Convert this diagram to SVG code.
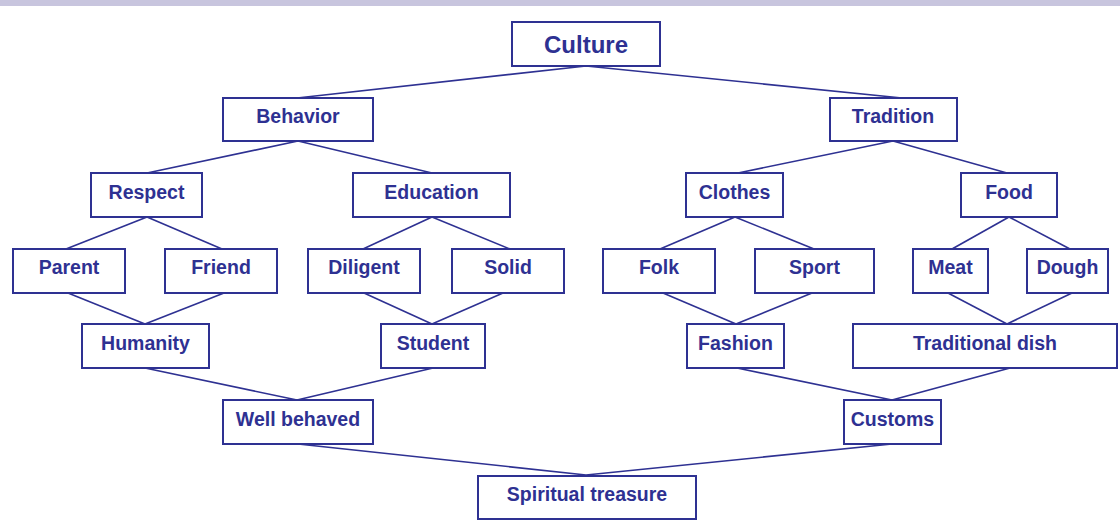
<svg xmlns="http://www.w3.org/2000/svg" width="1120" height="520" viewBox="0 0 1120 520">
<style>
.box{fill:#fff;stroke:#2e3192;stroke-width:2}
.lbl{font-family:"Liberation Sans",Arial,sans-serif;font-weight:bold;font-size:19.5px;fill:#2e3192;text-anchor:middle}
.big{font-size:24px}
#connectors line{stroke:#2e3192;stroke-width:1.6}
</style>
<rect x="0" y="0" width="1120" height="6" fill="#c8c5de"/>
<g id="connectors">
<line x1="586" y1="66" x2="297" y2="98"/>
<line x1="586" y1="66" x2="902" y2="98"/>
<line x1="298" y1="141" x2="147" y2="173"/>
<line x1="298" y1="141" x2="432" y2="173"/>
<line x1="893" y1="141" x2="738" y2="173"/>
<line x1="893" y1="141" x2="1007" y2="173"/>
<line x1="147" y1="217" x2="66" y2="249"/>
<line x1="147" y1="217" x2="222" y2="249"/>
<line x1="432" y1="217" x2="363" y2="249"/>
<line x1="432" y1="217" x2="510" y2="249"/>
<line x1="735" y1="217" x2="660" y2="249"/>
<line x1="735" y1="217" x2="814" y2="249"/>
<line x1="1009" y1="217" x2="952" y2="249"/>
<line x1="1009" y1="217" x2="1070" y2="249"/>
<line x1="68" y1="293" x2="145" y2="324"/>
<line x1="224" y1="293" x2="145" y2="324"/>
<line x1="364" y1="293" x2="432" y2="324"/>
<line x1="503" y1="293" x2="432" y2="324"/>
<line x1="663" y1="293" x2="736" y2="324"/>
<line x1="812" y1="293" x2="736" y2="324"/>
<line x1="948" y1="293" x2="1007" y2="324"/>
<line x1="1072" y1="293" x2="1007" y2="324"/>
<line x1="145" y1="368" x2="297" y2="400"/>
<line x1="433" y1="368" x2="297" y2="400"/>
<line x1="737" y1="368" x2="892" y2="400"/>
<line x1="1010" y1="368" x2="892" y2="400"/>
<line x1="298" y1="444" x2="586" y2="475"/>
<line x1="892" y1="444" x2="586" y2="475"/>
</g>
<g id="culture"><rect class="box" x="512" y="22" width="148" height="44"/><text class="lbl big" x="586" y="53">Culture</text></g>
<g id="behavior"><rect class="box" x="223" y="98" width="150" height="43"/><text class="lbl" x="298" y="123">Behavior</text></g>
<g id="tradition"><rect class="box" x="830" y="98" width="127" height="43"/><text class="lbl" x="893" y="123">Tradition</text></g>
<g id="respect"><rect class="box" x="91" y="173" width="111" height="44"/><text class="lbl" x="146.5" y="199">Respect</text></g>
<g id="education"><rect class="box" x="353" y="173" width="157" height="44"/><text class="lbl" x="431.5" y="199">Education</text></g>
<g id="clothes"><rect class="box" x="686" y="173" width="97" height="44"/><text class="lbl" x="734.5" y="199">Clothes</text></g>
<g id="food"><rect class="box" x="961" y="173" width="96" height="44"/><text class="lbl" x="1009" y="199">Food</text></g>
<g id="parent"><rect class="box" x="13" y="249" width="112" height="44"/><text class="lbl" x="69" y="274">Parent</text></g>
<g id="friend"><rect class="box" x="165" y="249" width="112" height="44"/><text class="lbl" x="221" y="274">Friend</text></g>
<g id="diligent"><rect class="box" x="308" y="249" width="112" height="44"/><text class="lbl" x="364" y="274">Diligent</text></g>
<g id="solid"><rect class="box" x="452" y="249" width="112" height="44"/><text class="lbl" x="508" y="274">Solid</text></g>
<g id="folk"><rect class="box" x="603" y="249" width="112" height="44"/><text class="lbl" x="659" y="274">Folk</text></g>
<g id="sport"><rect class="box" x="755" y="249" width="119" height="44"/><text class="lbl" x="814.5" y="274">Sport</text></g>
<g id="meat"><rect class="box" x="913" y="249" width="75" height="44"/><text class="lbl" x="950.5" y="274">Meat</text></g>
<g id="dough"><rect class="box" x="1027" y="249" width="81" height="44"/><text class="lbl" x="1067.5" y="274">Dough</text></g>
<g id="humanity"><rect class="box" x="82" y="324" width="127" height="44"/><text class="lbl" x="145.5" y="350">Humanity</text></g>
<g id="student"><rect class="box" x="381" y="324" width="104" height="44"/><text class="lbl" x="433" y="350">Student</text></g>
<g id="fashion"><rect class="box" x="687" y="324" width="97" height="44"/><text class="lbl" x="735.5" y="350">Fashion</text></g>
<g id="traditional-dish"><rect class="box" x="853" y="324" width="264" height="44"/><text class="lbl" x="985" y="350">Traditional dish</text></g>
<g id="well-behaved"><rect class="box" x="223" y="400" width="150" height="44"/><text class="lbl" x="298" y="426">Well behaved</text></g>
<g id="customs"><rect class="box" x="844" y="400" width="97" height="44"/><text class="lbl" x="892.5" y="426">Customs</text></g>
<g id="spiritual-treasure"><rect class="box" x="478" y="476" width="218" height="43"/><text class="lbl" x="587" y="501">Spiritual treasure</text></g>
</svg>
